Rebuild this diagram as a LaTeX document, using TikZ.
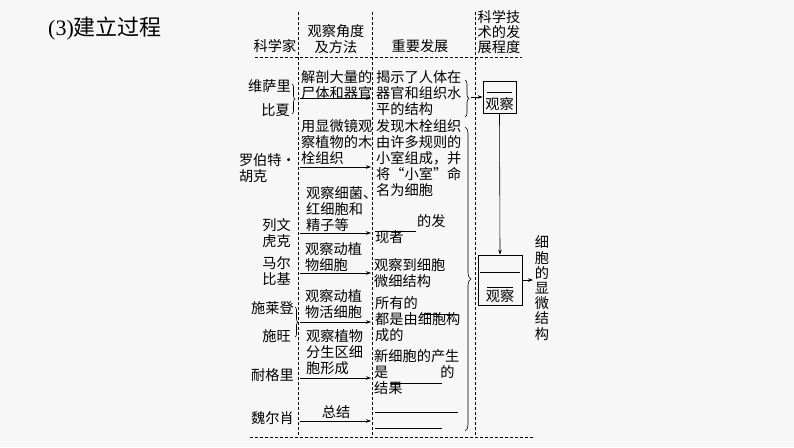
\documentclass[tikz,border=0pt]{standalone}
\usepackage{fontspec}
\setmainfont{Liberation Serif}
\newfontfamily\cjk{Noto Sans CJK SC}
\usetikzlibrary{decorations.pathreplacing,arrows.meta}
\begin{document}
\begin{tikzpicture}[x=1pt,y=-1pt,
  txt/.style={font=\cjk\fontsize{14.2}{16.2}\selectfont,align=left,anchor=north west,inner sep=0pt},
  ctxt/.style={font=\cjk\fontsize{14.2}{15.2}\selectfont,align=center,inner sep=0pt},
  dline/.style={dashed,line width=0.6pt,dash pattern=on 3pt off 2pt},
  arr/.style={-{Stealth[length=5pt,width=3.5pt]},line width=0.6pt},
  blank/.style={line width=0.6pt}]
\fill[gray!6] (0,0) rectangle (794,447);
\useasboundingbox (0,0) rectangle (794,447);
\node[font=\fontsize{22}{24}\selectfont,anchor=west,inner sep=0pt] (title) at (48,29) {(3)\cjk 建立过程};
% dashed grid
\draw[dline] (298,12) -- (298,437);
\draw[dline] (372,12) -- (372,437);
\draw[dline] (475,12) -- (475,437);
\draw[dline] (255,57) -- (522,57);
\draw[dline] (250,437) -- (535,437);
% headers
\node[ctxt] (h1) at (275,46) {科学家};
\node[ctxt] (h2) at (336,39) {观察角度\\及方法};
\node[ctxt] (h3) at (420,46) {重要发展};
\node[ctxt] (h4) at (499,32) {科学技\\术的发\\展程度};
% scientists
\node[txt,anchor=north east] (s1) at (291,79) {维萨里};
\node[txt,anchor=north east] (s1b) at (290,103) {比夏};
\draw[decorate,decoration={brace,amplitude=3pt},line width=0.6pt] (292,84) -- (292,114);
\node[txt,anchor=north east] (s2) at (296,153) {罗伯特·\\胡克};
\node[txt,anchor=north east] (s3) at (291,218) {列文\\虎克};
\node[txt,anchor=north east] (s4) at (291,256) {马尔\\比基};
\node[txt,anchor=north east] (s5) at (294,301) {施莱登};
\node[txt,anchor=north east] (s5b) at (291,329) {施旺};
\draw[decorate,decoration={brace,amplitude=3pt},line width=0.6pt] (295,307) -- (295,337);
\node[txt,anchor=north east] (s6) at (294,368) {耐格里};
\node[txt,anchor=north east] (s7) at (294,411) {魏尔肖};
% methods
\node[txt] (m1) at (301,70) {解剖大量的\\尸体和器官};
\node[txt] (m2) at (301,119) {用显微镜观\\察植物的木\\栓组织};
\node[txt] (m3) at (306,186) {观察细菌、\\红细胞和\\精子等};
\node[txt] (m4) at (305,242) {观察动植\\物细胞};
\node[txt] (m5) at (305,289) {观察动植\\物活细胞};
\node[txt] (m6) at (306,329) {观察植物\\分生区细\\胞形成};
\node[ctxt] (m7) at (336,412) {总结};
% development
\node[txt] (d1) at (376,70) {揭示了人体在\\器官和组织水\\平的结构};
\node[txt] (d2) at (376,119) {发现木栓组织\\由许多规则的\\小室组成，并\\将“小室”命\\名为细胞};
\node[txt] (d3) at (375,214) {\hspace{42pt}的发\\现者};
\node[txt] (d4) at (374,258) {观察到细胞\\微细结构};
\node[txt] (d5) at (375,296) {所有的\\都是由细胞构\\成的};
\node[txt] (d6) at (374,349) {新细胞的产生\\是\hspace{52pt}的\\结果};
% blanks
\draw[blank] (375,231) -- (416,231);
\draw[blank] (420,314) -- (458,314);
\draw[blank] (390,383) -- (442,383);
\draw[blank] (375,412) -- (458,412);
\draw[blank] (375,428) -- (442,428);
% arrows
\coordinate (a1s) at (300,98); \coordinate (a1e) at (371,98);
\draw[arr] (a1s) -- (a1e);
\coordinate (a2s) at (300,167); \coordinate (a2e) at (371,167);
\draw[arr] (a2s) -- (a2e);
\coordinate (a3s) at (300,233); \coordinate (a3e) at (371,233);
\draw[arr] (a3s) -- (a3e);
\coordinate (a4s) at (300,273); \coordinate (a4e) at (371,273);
\draw[arr] (a4s) -- (a4e);
\coordinate (a5s) at (300,322); \coordinate (a5e) at (371,322);
\draw[arr] (a5s) -- (a5e);
\coordinate (a6s) at (300,378); \coordinate (a6e) at (371,378);
\draw[arr] (a6s) -- (a6e);
\coordinate (a7s) at (300,421); \coordinate (a7e) at (371,421);
\draw[arr] (a7s) -- (a7e);
% braces right
\draw[decorate,decoration={brace,amplitude=4pt},line width=0.6pt] (465,80) -- (465,117);
\draw[decorate,decoration={brace,amplitude=6pt},line width=0.6pt] (465,127) -- (465,431);
% boxes
\node[draw,line width=0.7pt,minimum width=33pt,minimum height=32pt,inner sep=0pt] (b1) at (499.5,97) {};
\draw[blank] (487,92) -- (512,92);
\node[ctxt] (b1t) at (499.5,104) {观察};
\node[draw,line width=0.7pt,minimum width=44pt,minimum height=50pt,inner sep=0pt] (b2) at (500,280) {};
\draw[blank] (480,272) -- (520,272);
\draw[blank] (487,287) -- (513,287);
\node[ctxt] (b2t) at (500,296) {观察};
\draw[arr] (471,97) -- (b1.west);
\draw[arr] (b1.south) -- (b2.north);
\node[ctxt] (v) at (542,288) {细\\胞\\的\\显\\微\\结\\构};
\draw[arr] (b2.east) -- (533,280);
\end{tikzpicture}
\end{document}
